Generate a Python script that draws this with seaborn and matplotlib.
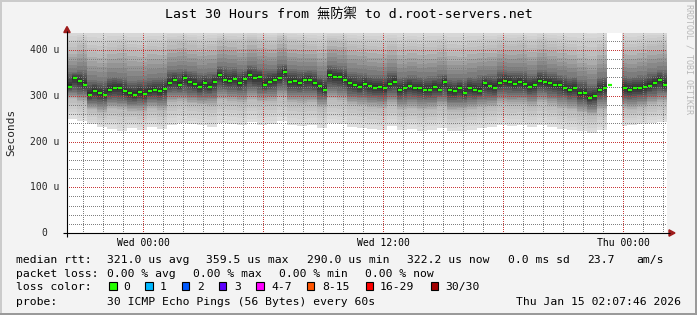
import numpy as np
import pandas as pd
import matplotlib
matplotlib.use("Agg")
import matplotlib.pyplot as plt
import seaborn as sns
from matplotlib.patches import Polygon, Rectangle
from matplotlib.lines import Line2D

nan = np.nan

# ---------------- data ----------------
title = "Last 30 Hours from 無防禦 to d.root-servers.net"
t_start = -3.8          # hours relative to Wed 00:00
t_end = 26.2
bin_hours = 0.25
y_top = 437.2           # microseconds

# median RTT (us), one value per 15 min
median_us = [
    320, 339, 333, 324, 302, 310, 306, 302, 313, 318, 317, 310,
    306, 302, 308, 304, 310, 313, 310, 315, 328, 335, 324, 339,
    331, 326, 320, 328, 320, 331, 346, 335, 333, 337, 328, 337,
    346, 339, 342, 324, 331, 335, 339, 353, 331, 333, 328, 335,
    335, 328, 322, 313, 346, 340, 342, 335, 328, 324, 320, 326,
    322, 318, 320, 317, 326, 331, 313, 317, 322, 317, 318, 313,
    313, 320, 313, 331, 313, 310, 317, 306, 317, 313, 310, 328,
    322, 318, 328, 333, 331, 326, 330, 326, 320, 324, 333, 330,
    328, 324, 324, 317, 313, 317, 306, 306, 296, 300, 313, 317,
    324, nan, nan, 317, 313, 317, 316, 320, 322, 328, 335, 324]

# smoke (ping distribution, us), one value per 30 min
smoke_min = [250, 245, 238, 232, 228, 222, 230, 226, 232, 228,
             235, 240, 238, 236, 232, 240, 238, 235, 242, 236,
             238, 245, 236, 234, 236, 230, 240, 238, 232, 230,
             228, 226, 234, 225, 228, 224, 226, 230, 222, 224,
             226, 230, 232, 236, 234, 235, 232, 236, 232, 228,
             225, 222, 218, 226, 232, 234, 236, 238, 240, 242]
smoke_p10 = [292, 285, 268, 262, 270, 268, 264, 262, 270, 266,
             282, 285, 280, 278, 276, 288, 285, 282, 290, 284,
             285, 292, 282, 280, 282, 272, 290, 286, 278, 275,
             272, 270, 278, 268, 270, 266, 268, 274, 264, 265,
             268, 272, 273, 280, 278, 279, 274, 282, 276, 270,
             266, 260, 255, 266, 275, 270, 268, 272, 278, 282]
smoke_p25 = [308, 304, 285, 282, 290, 288, 283, 284, 290, 288,
             305, 306, 302, 298, 300, 312, 308, 306, 314, 307,
             308, 318, 306, 305, 306, 294, 315, 311, 300, 298,
             295, 293, 302, 290, 294, 290, 291, 297, 287, 287,
             290, 294, 295, 304, 302, 302, 297, 305, 300, 295,
             290, 282, 275, 290, 299, 292, 290, 293, 300, 305]
smoke_p75 = [352, 356, 335, 332, 342, 340, 333, 334, 338, 340,
             356, 358, 355, 350, 352, 366, 362, 358, 368, 360,
             358, 370, 358, 356, 357, 345, 368, 364, 352, 350,
             346, 345, 354, 342, 345, 342, 343, 348, 338, 338,
             342, 346, 347, 356, 354, 354, 348, 357, 352, 346,
             342, 334, 326, 342, 350, 344, 342, 345, 352, 356]
smoke_p90 = [400, 410, 395, 392, 400, 405, 398, 395, 402, 400,
             412, 415, 410, 405, 408, 418, 415, 412, 420, 414,
             410, 422, 412, 410, 408, 402, 418, 415, 408, 405,
             402, 400, 408, 398, 402, 398, 400, 404, 396, 395,
             400, 402, 404, 410, 408, 410, 404, 412, 406, 402,
             398, 392, 388, 398, 405, 400, 398, 402, 408, 410]
smoke_max = [445, 445, 445, 445, 445, 445, 445, 445, 445, 445,
             445, 445, 445, 445, 445, 445, 445, 445, 445, 445,
             445, 445, 445, 445, 445, 445, 445, 445, 445, 445,
             445, 445, 445, 445, 445, 445, 445, 445, 445, 445,
             445, 445, 445, 445, 445, 445, 445, 445, 445, 445,
             445, 445, 445, 445, 445, 445, 445, 445, 445, 445]

xtick_hours = [0, 6, 12, 18, 24]
xtick_labels = ["Wed 00:00", "", "Wed 12:00", "", "Thu 00:00"]
ytick_vals = [0, 100, 200, 300, 400]
ytick_labels = ["0", "100 u", "200 u", "300 u", "400 u"]
y_label = "Seconds"

rtt_values = ["321.0 us", "359.5 us", "290.0 us", "322.2 us"]
stat_names = ["avg", "max", "min", "now"]
rtt_sd = "0.0 ms"
rtt_ams = "23.7"
loss_values = ["0.00 %", "0.00 %", "0.00 %", "0.00 %"]
loss_labels = ["0", "1", "2", "3", "4-7", "8-15", "16-29", "30/30"]
loss_colors = ["#26ff00", "#00b8ff", "#0059ff", "#5e00ff",
               "#ff00ff", "#ff5500", "#ff0000", "#a10000"]
probe_text = "30 ICMP Echo Pings (56 Bytes) every 60s"
stamp_text = "Thu Jan 15 02:07:46 2026"
watermark = "RRDTOOL / TOBI OETIKER"

# ---------------- figure ----------------
W, H, DPI = 697, 315, 100
BG = "#f3f3f3"
sns.set_theme(style="white")
plt.rcParams["font.family"] = ["DejaVu Sans Mono", "Noto Sans CJK TC", "DejaVu Sans"]
plt.rcParams["axes.unicode_minus"] = False

fig = plt.figure(figsize=(W / DPI, H / DPI), dpi=DPI, facecolor=BG)


def fx(px):
    return px / W


def fy(py):
    return 1 - py / H


L, R, T, B = 67, 667, 33, 233
ax = fig.add_axes([fx(L), fy(B), (R - L) / W, (B - T) / H])
ax.set_facecolor("white")
for s in ax.spines.values():
    s.set_visible(False)

# ---------------- smoke ----------------
med = np.array(median_us, dtype=float)
n = len(med)
edges = t_start + bin_hours * np.arange(n + 1)
gap = np.isnan(med)


def expand(a):
    v = np.repeat(np.asarray(a, dtype=float), 2)
    v[gap] = np.nan
    return np.append(v, v[-1])


med_e = np.append(med, med[-1])
lows = [expand(smoke_min), expand(smoke_p10), expand(smoke_p25), med_e]
highs = [expand(smoke_max), expand(smoke_p90), expand(smoke_p75), med_e]
shades = [0.87, 0.72, 0.44, 0.13]
nsub = 6
for i in range(3):
    for k in range(nsub):
        f = k / nsub
        lo = lows[i] + (lows[i + 1] - lows[i]) * f
        hi = highs[i] + (highs[i + 1] - highs[i]) * f
        g = shades[i] + (shades[i + 1] - shades[i]) * f
        ax.fill_between(edges, lo, hi, step="post", color=(g, g, g),
                        lw=0, zorder=1)

# ---------------- median ----------------
df = pd.DataFrame({"hour": edges[:-1] + bin_hours / 2, "median_us": med})
sns.scatterplot(data=df, x="hour", y="median_us", marker="_", s=11,
                linewidth=1.6, color="#22ff00", ax=ax, zorder=4, legend=False)
ax.set_xlabel("")
ax.set_ylabel("")

# ---------------- axes / grid ----------------
ax.set_xlim(t_start, t_end)
ax.set_ylim(0, y_top)
ax.set_xticks(xtick_hours)
ax.set_xticklabels(xtick_labels)
minor_x = [h for h in range(int(np.ceil(t_start)), int(t_end) + 1) if h % 6 != 0]
ax.set_xticks(minor_x, minor=True)
ax.set_yticks(ytick_vals)
ax.set_yticklabels([])
ax.set_yticks([v for v in range(20, int(y_top), 20) if v % 100 != 0], minor=True)
dots = (0.5, (1, 1))
ax.grid(True, which="major", color=(0.78, 0.22, 0.22, 0.42),
        linestyle=dots, linewidth=0.72)
ax.grid(True, which="minor", color=(0.5, 0.5, 0.5, 0.36),
        linestyle=dots, linewidth=0.72)
ax.set_axisbelow(False)
ax.tick_params(which="both", direction="out", length=2.6, width=0.72)
ax.tick_params(which="major", color="#d8a8a8")
ax.tick_params(which="minor", color="#d0d0d0")
ax.tick_params(axis="x", which="major", labelsize=7.05, pad=1.2,
               labelcolor="black")
for lab in ax.get_xticklabels():
    lab.set_family(["DejaVu Sans Mono"])

ytr = ax.get_yaxis_transform()
for v, lab in zip(ytick_vals, ytick_labels):
    right_px = 59 if " " in lab else 47.5
    ax.text((right_px - L) / (R - L), v, lab, transform=ytr, ha="right",
            va="center", fontsize=7.05, family=["DejaVu Sans Mono"])

# axis lines with arrows
fig.add_artist(Line2D([fx(63), fx(670)], [fy(233), fy(233)], color="black",
                      lw=0.8, solid_capstyle="butt"))
fig.add_artist(Line2D([fx(67), fx(67)], [fy(237), fy(31)], color="black",
                      lw=0.8, solid_capstyle="butt"))
arrow_col = "#9e1b1b"
fig.add_artist(Polygon([(fx(669), fy(229.8)), (fx(675), fy(233)),
                        (fx(669), fy(236.2))], closed=True, color=arrow_col,
                       transform=fig.transFigure))
fig.add_artist(Polygon([(fx(63.8), fy(32.5)), (fx(67), fy(26.5)),
                        (fx(70.2), fy(32.5))], closed=True, color=arrow_col,
                       transform=fig.transFigure))

# ---------------- texts ----------------
fig.text(0.5, fy(15), title, ha="center", va="center", fontsize=9.5,
         family=["DejaVu Sans Mono", "Noto Sans CJK TC"], color="black")
fig.text(fx(11), fy(132), y_label, rotation=90, ha="center", va="center",
         fontsize=8)
fig.text(fx(688.5), fy(3.5), watermark, rotation=270, ha="center", va="top",
         fontsize=6, color="#b8b8b8")

FS = 8.2


def leg(x, ycenter, s, ha="left"):
    fig.text(fx(x), fy(ycenter + 4.1), s, ha=ha, va="baseline", fontsize=FS,
             color="black")


y1, y2, y3, y4 = 258.7, 273.0, 286.3, 300.6
leg(16.4, y1, "median rtt:")
for x, v, nme in zip([107.3, 206.0, 306.7, 406.7], rtt_values, stat_names):
    leg(x, y1, f"{v} {nme}")
leg(508.3, y1, f"{rtt_sd} sd")
leg(586.7, y1, rtt_ams)
leg(636.5, y1, "am/s")

leg(16.4, y2, "packet loss:")
for x, v, nme in zip([107.3, 193.3, 279.3, 365.3], loss_values, stat_names):
    leg(x, y2, f"{v} {nme}")

leg(16.4, y3, "loss color:")
box_x = [109.3, 145.0, 181.7, 218.7, 256.0, 306.7, 365.7, 430.7]
text_x = [123.3, 160.0, 197.3, 234.3, 271.3, 322.0, 380.0, 445.7]
for bx, tx, lab, col in zip(box_x, text_x, loss_labels, loss_colors):
    fig.add_artist(Rectangle((fx(bx), fy(290)), 7.6 / W, 8 / H,
                             transform=fig.transFigure, facecolor=col,
                             edgecolor="black", lw=0.8))
    leg(tx, y3, lab)

leg(16.4, y4, "probe:")
leg(107.3, y4, probe_text)
leg(680.5, y4, stamp_text, ha="right")

# ---------------- border ----------------
borders = [((0, 0), 2 / W, 1, "#cbcbcb"),
           ((0, 1 - 2 / H), 1, 2 / H, "#cbcbcb"),
           ((1 - 2 / W, 0), 2 / W, 1, "#9a9a9a"),
           ((0, 0), 1, 2 / H, "#9a9a9a")]
for xy, bw, bh, col in borders:
    fig.add_artist(Rectangle(xy, bw, bh, transform=fig.transFigure,
                             color=col, lw=0))

fig.savefig("out.png", dpi=DPI, facecolor=BG)
